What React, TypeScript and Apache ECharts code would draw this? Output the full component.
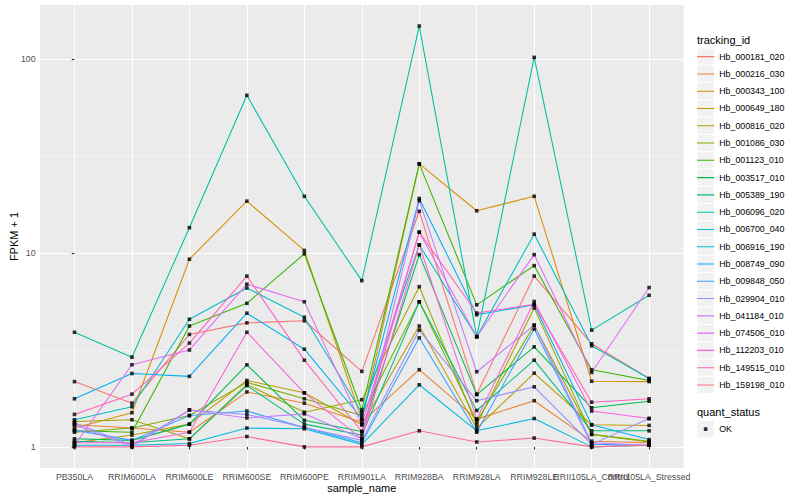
import React, { useEffect, useRef } from "react";
import * as echarts from "echarts";

const categories = [
  "PB350LA", "RRIM600LA", "RRIM600LE", "RRIM600SE", "RRIM600PE", "RRIM901LA",
  "RRIM928BA", "RRIM928LA", "RRIM928LE", "RRII105LA_Control", "RRII105LA_Stressed",
];

const trackingIds = [
  "Hb_000181_020", "Hb_000216_030", "Hb_000343_100", "Hb_000649_180", "Hb_000816_020",
  "Hb_001086_030", "Hb_001123_010", "Hb_003517_010", "Hb_005389_190", "Hb_006096_020",
  "Hb_006700_040", "Hb_006916_190", "Hb_008749_090", "Hb_009848_050", "Hb_029904_010",
  "Hb_041184_010", "Hb_074506_010", "Hb_112203_010", "Hb_149515_010", "Hb_159198_010",
];

const lineColors = [
  "#F8766D", "#EA8331", "#D89000", "#C09B00", "#A3A500", "#7CAE00", "#39B600", "#00BB4E",
  "#00BF7D", "#00C1A3", "#00BFC4", "#00BAE0", "#00B0F6", "#35A2FF", "#9590FF", "#C77CFF",
  "#E76BF3", "#FA62DB", "#FF62BC", "#FF6C91",
];

// FPKM + 1 per sample, in category order
const hb_000181_020 = [2.17, 1.68, 3.8, 4.36, 4.47, 2.45, 16.4, 1.87, 7.6, 3.4, 2.25];
const hb_000216_030 = [1.3, 1.25, 1.19, 1.92, 1.68, 1.34, 2.5, 1.39, 1.73, 1.07, 1.05];
const hb_000343_100 = [1.25, 1.5, 9.28, 18.5, 10.3, 1.38, 28.8, 16.5, 19.6, 2.18, 2.17];
const hb_000649_180 = [1.05, 1.15, 1.31, 2.2, 1.9, 1.3, 4.2, 1.25, 2.4, 1.3, 1.29];
const hb_000816_020 = [1.35, 1.38, 1.1, 2.1, 1.51, 1.75, 6.7, 1.3, 5.2, 1.16, 1.06];
const hb_001086_030 = [1.19, 1.25, 1.45, 2.15, 1.77, 1.45, 5.6, 1.35, 4.24, 1.16, 1.07];
const hb_001123_010 = [1.21, 1.19, 4.2, 5.5, 9.9, 1.55, 28.8, 5.4, 8.6, 2.5, 2.2];
const hb_003517_010 = [1.1, 1.08, 1.31, 2.65, 1.37, 1.2, 9.8, 1.86, 3.28, 1.59, 1.72];
const hb_005389_190 = [1.07, 1.05, 1.1, 2.07, 1.31, 1.15, 5.6, 1.54, 2.8, 1.21, 1.21];
const hb_006096_020 = [3.9, 2.9, 13.5, 65, 19.6, 7.2, 148, 3.7, 102, 4.0, 6.05];
const hb_006700_040 = [1.38, 1.61, 4.55, 6.6, 4.66, 1.5, 11.0, 3.7, 12.5, 3.32, 2.25];
const hb_006916_190 = [1.02, 1.02, 1.04, 1.25, 1.24, 1.03, 2.09, 1.21, 1.4, 1.0, 1.02];
const hb_008749_090 = [1.77, 2.39, 2.31, 4.89, 3.19, 1.4, 19.1, 4.8, 5.4, 1.3, 1.09];
const hb_009848_050 = [1.22, 1.08, 1.45, 1.53, 1.26, 1.05, 3.65, 1.19, 4.05, 1.03, 1.02];
const hb_029904_010 = [1.33, 1.02, 1.55, 1.47, 1.26, 1.08, 4.0, 1.73, 2.04, 1.03, 1.4];
const hb_041184_010 = [1.3, 1.0, 1.55, 1.41, 1.48, 1.1, 18.6, 2.44, 4.24, 1.05, 1.02];
const hb_074506_010 = [1.02, 2.65, 3.16, 6.9, 5.6, 1.3, 12.8, 3.7, 9.8, 2.42, 6.63];
const hb_112203_010 = [1.05, 1.05, 1.19, 3.9, 1.9, 1.1, 11.0, 1.39, 5.62, 1.53, 1.4];
const hb_149515_010 = [1.47, 1.87, 3.43, 7.6, 2.8, 1.2, 12.8, 4.9, 5.44, 1.7, 1.77];
const hb_159198_010 = [1.0, 1.0, 1.02, 1.13, 1.0, 1.0, 1.21, 1.06, 1.11, 1.0, 1.02];

const seriesValues = [
  hb_000181_020, hb_000216_030, hb_000343_100, hb_000649_180, hb_000816_020,
  hb_001086_030, hb_001123_010, hb_003517_010, hb_005389_190, hb_006096_020,
  hb_006700_040, hb_006916_190, hb_008749_090, hb_009848_050, hb_029904_010,
  hb_041184_010, hb_074506_010, hb_112203_010, hb_149515_010, hb_159198_010,
];

const yMajorBreaks = [1, 10, 100];
const yMinorBreaks = [3.162, 31.62];
const yRange = [0.778, 190];
const statusLabels = ["OK"];

const FONT = "'Liberation Sans', Arial, Helvetica, sans-serif";
const KEY = 17.28;
const LEG_X = 697;
const LEG1_TOP = 48;
const LEG2_TOP = 420.5;
const X_PAD = 0.6;

const LINE_ICON = `path://M0,0h0.01v0.01h-0.01zM${KEY},${KEY}h-0.01v-0.01h0.01zM0,${(KEY - 1.07) / 2}h${KEY}v1.07h-${KEY}z`;
const SQUARE_ICON = `path://M0,0h0.01v0.01h-0.01zM${KEY},${KEY}h-0.01v-0.01h0.01zM${KEY / 2 - 1.8},${KEY / 2 - 1.8}h3.6v3.6h-3.6z`;

const lg = (v: number) => Math.log10(v);

export default function App() {
  const ref = useRef<HTMLDivElement>(null);

  useEffect(() => {
    if (!ref.current) return;
    const chart = echarts.init(ref.current, null, { renderer: "svg" });

    const lineSeries = seriesValues.map((vals, s) => ({
      name: trackingIds[s],
      type: "line",
      data: vals.map((v, i) => [i, lg(v)]),
      symbol: "none",
      silent: true,
      z: 2,
      lineStyle: { color: lineColors[s], width: 1.07 },
      itemStyle: { color: lineColors[s] },
    }));

    const points: number[][] = [];
    seriesValues.forEach((vals) => vals.forEach((v, i) => points.push([i, lg(v)])));

    const keyRects: any[] = [];
    trackingIds.forEach((_, i) => {
      keyRects.push({
        type: "rect",
        z: 0,
        shape: { x: LEG_X, y: LEG1_TOP + KEY * i, width: KEY, height: KEY },
        style: { fill: "#F2F2F2", stroke: "#FFFFFF", lineWidth: 1 },
      });
    });
    keyRects.push({
      type: "rect",
      z: 0,
      shape: { x: LEG_X, y: LEG2_TOP, width: KEY, height: KEY },
      style: { fill: "#F2F2F2", stroke: "#FFFFFF", lineWidth: 1 },
    });

    const xMax = categories.length - 1 + X_PAD;
    const xTickValues = categories.map((_, i) => i);
    // an empty label at the far end keeps the last real label from being dropped
    const xLabelValues = [...xTickValues, xMax];

    const option: any = {
      animation: false,
      backgroundColor: "#FFFFFF",
      textStyle: { fontFamily: FONT },
      grid: {
        left: 40, right: 116.4, top: 5, bottom: 32,
        show: true, backgroundColor: "#EBEBEB", borderWidth: 0,
        containLabel: false,
        outerBoundsMode: "none",
      },
      xAxis: {
        type: "value",
        min: -X_PAD,
        max: xMax,
        name: "sample_name",
        nameLocation: "middle",
        nameGap: 14,
        nameMoveOverlap: false,
        nameTextStyle: { fontSize: 11, color: "#000000", fontFamily: FONT },
        axisLine: { show: false },
        axisTick: {
          show: true, length: 2.75, customValues: xTickValues,
          lineStyle: { color: "#333333", width: 1.07 },
        },
        axisLabel: {
          customValues: xLabelValues,
          formatter: (v: number) => (Math.abs(v - Math.round(v)) < 1e-6 ? categories[Math.round(v)] ?? " " : " "),
          fontSize: 8.8, color: "#4D4D4D", margin: 4.4, fontFamily: FONT,
          hideOverlap: false,
        },
        splitLine: { show: true, lineStyle: { color: "#FFFFFF", width: 1.07 } },
      },
      yAxis: [
        {
          type: "value",
          min: lg(yRange[0]),
          max: lg(yRange[1]),
          name: "FPKM + 1",
          nameLocation: "middle",
          nameGap: 21,
          nameMoveOverlap: false,
          nameTextStyle: { fontSize: 11, color: "#000000", fontFamily: FONT },
          axisLine: { show: false },
          axisTick: {
            show: true, length: 2.75, customValues: yMajorBreaks.map(lg),
            lineStyle: { color: "#333333", width: 1.07 },
          },
          axisLabel: {
            customValues: yMajorBreaks.map(lg),
            formatter: (v: number) => String(Math.round(Math.pow(10, v))),
            fontSize: 8.8, color: "#4D4D4D", margin: 4.4, fontFamily: FONT,
            showMinLabel: true, showMaxLabel: true,
          },
          splitLine: { show: true, lineStyle: { color: "#FFFFFF", width: 1.07 } },
        },
        {
          type: "value",
          min: lg(yRange[0]),
          max: lg(yRange[1]),
          axisLine: { show: false },
          axisTick: { show: false, customValues: yMinorBreaks.map(lg) },
          axisLabel: { show: false, customValues: yMinorBreaks.map(lg) },
          splitLine: { show: true, lineStyle: { color: "#FFFFFF", width: 0.53 } },
        },
      ],
      legend: [
        {
          orient: "vertical",
          left: LEG_X,
          top: LEG1_TOP,
          padding: 0,
          itemWidth: KEY,
          itemHeight: KEY,
          itemGap: 0,
          selectedMode: false,
          z: 5,
          itemStyle: { borderWidth: 0 },
          textStyle: { fontSize: 8.8, color: "#000000", fontFamily: FONT },
          data: trackingIds.map((n, i) => ({
            name: n,
            icon: LINE_ICON,
            itemStyle: { color: lineColors[i], borderWidth: 0 },
          })),
        },
        {
          orient: "vertical",
          left: LEG_X,
          top: LEG2_TOP,
          padding: 0,
          itemWidth: KEY,
          itemHeight: KEY,
          itemGap: 0,
          selectedMode: false,
          z: 5,
          itemStyle: { borderWidth: 0 },
          textStyle: { fontSize: 8.8, color: "#000000", fontFamily: FONT },
          data: statusLabels.map((n) => ({
            name: n,
            icon: SQUARE_ICON,
            itemStyle: { color: "#000000", borderWidth: 0 },
          })),
        },
      ],
      graphic: [
        ...keyRects,
        {
          type: "text",
          z: 1,
          style: {
            text: "tracking_id", x: LEG_X, y: 40, fill: "#000000",
            font: `11px ${FONT}`, verticalAlign: "middle", align: "left",
          },
        },
        {
          type: "text",
          z: 1,
          style: {
            text: "quant_status", x: LEG_X, y: 412, fill: "#000000",
            font: `11px ${FONT}`, verticalAlign: "middle", align: "left",
          },
        },
      ],
      series: [
        ...lineSeries,
        {
          name: statusLabels[0],
          type: "scatter",
          data: points,
          symbol: "rect",
          symbolSize: 3.6,
          silent: true,
          z: 3,
          itemStyle: { color: "#000000" },
        },
      ],
    };

    chart.setOption(option);
    return () => chart.dispose();
  }, []);

  return (
    <div
      ref={ref}
      style={{ position: "fixed", left: 0, top: 0, width: 800, height: 500 }}
    />
  );
}
